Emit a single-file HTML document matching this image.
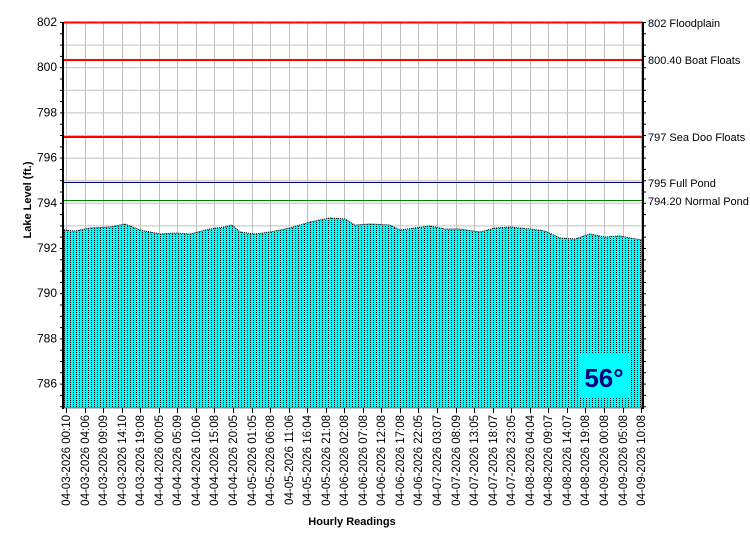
<!DOCTYPE html>
<html><head><meta charset="utf-8"><style>
html,body{margin:0;padding:0;background:#fff;}
svg{display:block;font-family:"Liberation Sans",sans-serif;}
</style></head><body>
<svg width="750" height="550" viewBox="0 0 750 550" xmlns="http://www.w3.org/2000/svg">
<defs>
<pattern id="dots" width="3" height="2" patternUnits="userSpaceOnUse">
<rect width="3" height="2" fill="#00ffff"/><rect x="1" y="0" width="1" height="1" fill="#000"/>
</pattern>
</defs>
<g id="grid" stroke="#c0c0c0" stroke-width="1"></g>
<polygon id="area" fill="url(#dots)" stroke="#000" stroke-width="1" stroke-dasharray="1,1"/>
<rect x="578" y="353" width="52" height="45" fill="#00ffff"/>
<text x="604" y="387" text-anchor="middle" style="font-family:'Liberation Sans',sans-serif" font-weight="bold" font-size="26" fill="#000080">56°</text>
<line x1="64" y1="22.5" x2="643" y2="22.5" stroke="#f00" stroke-width="2"/>
<line x1="64" y1="60" x2="643" y2="60" stroke="#f00" stroke-width="2"/>
<line x1="64" y1="137" x2="643" y2="137" stroke="#f00" stroke-width="2"/>
<line x1="64" y1="182.5" x2="643" y2="182.5" stroke="#000080" stroke-width="1"/>
<line x1="64" y1="200.5" x2="643" y2="200.5" stroke="#008000" stroke-width="1"/>
<line x1="63" y1="22" x2="63" y2="409" stroke="#000" stroke-width="2"/>
<line x1="643" y1="22" x2="643" y2="409" stroke="#000" stroke-width="2"/>
<g id="ticks" stroke="#000" stroke-width="1"></g>
<g id="ylab" font-size="12" fill="#000" text-anchor="end"></g>
<g font-size="11" fill="#000">
<text x="648" y="27">802 Floodplain</text>
<text x="648" y="64">800.40 Boat Floats</text>
<text x="648" y="141">797 Sea Doo Floats</text>
<text x="648" y="187">795 Full Pond</text>
<text x="648" y="205">794.20 Normal Pond</text>
</g>
<g id="xlab" font-size="11.5" fill="#000" text-anchor="end"></g>
<text transform="translate(31,200) rotate(-90)" text-anchor="middle" font-size="11" font-weight="bold">Lake Level (ft.)</text>
<text x="352" y="525" text-anchor="middle" font-size="11" font-weight="bold">Hourly Readings</text>
</svg>
<script>
const NS="http://www.w3.org/2000/svg";
function el(p,t,a,txt){const e=document.createElementNS(NS,t);for(const k in a)e.setAttribute(k,a[k]);if(txt)e.textContent=txt;document.getElementById(p).appendChild(e);}
const Y=v=>22+(802-v)*22.6;
for(let v=785;v<=802;v++){el('grid','line',{x1:64,x2:643,y1:Y(v)+.5,y2:Y(v)+.5});}
const labs=["04-03-2026 00:10","04-03-2026 04:06","04-03-2026 09:09","04-03-2026 14:10","04-03-2026 19:08","04-04-2026 00:05","04-04-2026 05:09","04-04-2026 10:06","04-04-2026 15:08","04-04-2026 20:05","04-05-2026 01:05","04-05-2026 06:08","04-05-2026 11:06","04-05-2026 16:04","04-05-2026 21:08","04-06-2026 02:08","04-06-2026 07:08","04-06-2026 12:08","04-06-2026 17:08","04-06-2026 22:05","04-07-2026 03:07","04-07-2026 08:09","04-07-2026 13:05","04-07-2026 18:07","04-07-2026 23:05","04-08-2026 04:04","04-08-2026 09:07","04-08-2026 14:07","04-08-2026 19:08","04-09-2026 00:08","04-09-2026 05:08","04-09-2026 10:08"];
labs.forEach((l,i)=>{const x=Math.round(66+i*18.55);
el('grid','line',{x1:x+.5,x2:x+.5,y1:22,y2:408});
el('ticks','line',{x1:x+.5,x2:x+.5,y1:408,y2:413});
el('xlab','text',{transform:`translate(${x+4},415) rotate(-90)`},l);});
for(let v=785;v<=802;v+=0.5){const y=Y(v)+.5;el('ticks','line',{x1:60,x2:63,y1:y,y2:y});el('ticks','line',{x1:643,x2:646,y1:y,y2:y});}
for(let v=786;v<=802;v+=2){el('ylab','text',{x:57,y:Y(v)+4},String(v));}
const pts=[[64,230],[75,231],[90,228],[110,227],[125,224],[140,230],[160,234],[175,233],[190,234],[210,229],[225,227],[232,225],[240,232],[255,234],[270,232],[290,228],[310,222],[330,218],[345,219],[355,225],[370,224],[390,225],[400,230],[415,228],[430,226],[445,229],[460,229],[480,232],[495,228],[510,227],[530,229],[545,231],[560,238],[575,239],[590,234],[605,237],[620,236],[630,238],[642,240]];
document.getElementById('area').setAttribute('points',pts.map(p=>p.join(',')).join(' ')+' 642,408 64,408');
</script>
</body></html>
